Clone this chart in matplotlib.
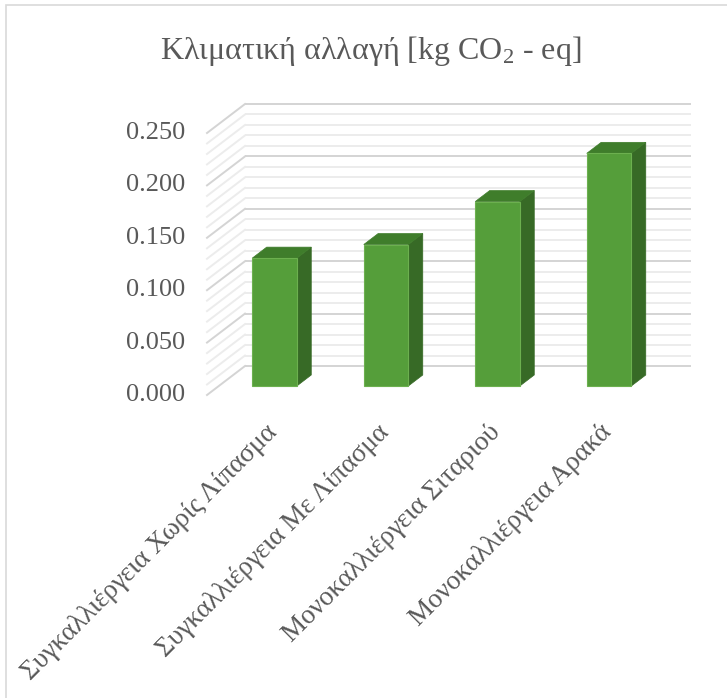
import matplotlib
matplotlib.use("Agg")
import matplotlib.pyplot as plt
from matplotlib.patches import Polygon, Rectangle
import numpy as np

plt.rcParams['font.family'] = ['Liberation Serif', 'DejaVu Serif']
plt.rcParams['mathtext.fontset'] = 'custom'
plt.rcParams['mathtext.rm'] = 'Liberation Serif'
plt.rcParams['mathtext.it'] = 'Liberation Serif'

categories = ['Συγκαλλιέργεια Χωρίς Λίπασμα', 'Συγκαλλιέργεια Με Λίπασμα',
              'Μονοκαλλιέργεια Σιταριού', 'Μονοκαλλιέργεια Αρακά']
values = [0.122, 0.135, 0.176, 0.222]
major_ticks = [0.0, 0.05, 0.10, 0.15, 0.20, 0.25]
tick_labels = ['0.000', '0.050', '0.100', '0.150', '0.200', '0.250']

TEXT = '#595959'
FRONT = '#559e3a'
TOP = '#3f7d2b'
SIDE = '#376a26'

W, H, DPI = 727, 698, 100
fig = plt.figure(figsize=(W / DPI, H / DPI), dpi=DPI)

# back wall of the 3d plot (pixel box)
wall_l, wall_r, wall_top, wall_bot = 245, 691, 104, 366
ax = fig.add_axes([wall_l / W, 1 - wall_bot / H, (wall_r - wall_l) / W, (wall_bot - wall_top) / H])
ax.set_xlim(-0.5, 3.5)
ax.set_ylim(0, 0.25)
ax.axis('off')

# one pixel in data units, and full depth vector (back -> front)
sx = 4 / (wall_r - wall_l)
sy = 0.25 / (wall_bot - wall_top)
depth_x, depth_y = -38 * sx, -29 * sy

def shift(x, y, f):
    return (x + depth_x * f, y + depth_y * f)

# gridlines on the back wall and side wall
for v in np.round(np.arange(0, 0.2501, 0.01), 2):
    is_major = abs(v / 0.05 - round(v / 0.05)) < 1e-6
    col = '#d4d4d4' if is_major else '#ececec'
    ax.plot([-0.5, 3.5], [v, v], color=col, lw=1.4, zorder=1, clip_on=False,
            solid_capstyle='butt')
    x0, y0 = shift(-0.5, v, 1)
    ax.plot([x0, -0.5], [y0, v], color=col, lw=1.4, zorder=1, clip_on=False)

# 3d bars
bw = 0.4
f_front, f_back = 0.69, 0.31
for i, v in enumerate(values):
    xl, xr = i - bw / 2, i + bw / 2
    side = [shift(xr, 0, f_front), shift(xr, v, f_front), shift(xr, v, f_back), shift(xr, 0, f_back)]
    top = [shift(xl, v, f_front), shift(xr, v, f_front), shift(xr, v, f_back), shift(xl, v, f_back)]
    front = [shift(xl, 0, f_front), shift(xr, 0, f_front), shift(xr, v, f_front), shift(xl, v, f_front)]
    ax.add_patch(Polygon(side, closed=True, facecolor=SIDE, edgecolor=SIDE, lw=0.5, zorder=3, clip_on=False))
    ax.add_patch(Polygon(top, closed=True, facecolor=TOP, edgecolor=TOP, lw=0.5, zorder=3, clip_on=False))
    ax.add_patch(Polygon(front, closed=True, facecolor=FRONT, edgecolor='#6cb04f', lw=0.8, zorder=4, clip_on=False))

# value axis labels sit on the front edge
for t, lab in zip(major_ticks, tick_labels):
    x0, y0 = shift(-0.5, t, 1)
    ax.text(x0 - 22 * sx, y0, lab, ha='right', va='center', fontsize=19, color=TEXT)

# category labels
for i, lab in enumerate(categories):
    x0, y0 = shift(i, 0, 1)
    ax.text(x0 + 2 * sx, y0 - 25 * sy, lab, rotation=45, rotation_mode='anchor',
            ha='right', va='top', fontsize=19.5, color=TEXT)

fig.text(371 / W, 1 - 51 / H, 'Κλιματική αλλαγή [kg CO$_2$ - eq]', ha='center', va='center',
         fontsize=23, color=TEXT)

# chart area border
fig.patches.append(Rectangle((6 / W, -0.1), 1.2, 1 - 5 / H + 0.1, transform=fig.transFigure,
                             fill=False, edgecolor='#d9d9d9', lw=1.2))

fig.savefig('out.png', dpi=DPI, facecolor='white')
